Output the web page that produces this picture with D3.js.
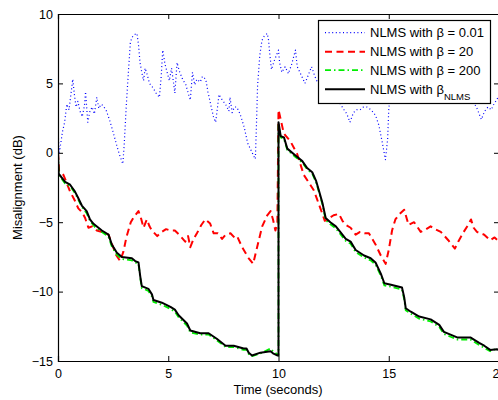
<!DOCTYPE html>
<html>
<head>
<meta charset="utf-8">
<script src="https://cdn.jsdelivr.net/npm/d3@7"></script>
<style>
  body { margin: 0; background: #fff; }
  svg { display: block; font-family: "Liberation Sans", Arial, sans-serif; }
</style>
</head>
<body>
<svg id="chart" width="498" height="400"></svg>
<script>
// [time (s), misalignment (dB)]
const beta001 = [
  [0, 1.8], [0.05, 0], [0.1, 0.4], [0.2, 1.5], [0.3, 2.2], [0.4, 3.5], [0.5, 3.1], [0.6, 4.4],
  [0.67, 5.3], [0.75, 4.1], [0.82, 3.3], [0.9, 3.7], [1.0, 3.0], [1.1, 2.6], [1.2, 3.4], [1.25, 4.4],
  [1.3, 3.3], [1.35, 2.2], [1.45, 3.0], [1.55, 3.3], [1.65, 2.8], [1.76, 4.0], [1.85, 3.2], [1.95, 3.5],
  [2.05, 3.4], [2.2, 3.0], [2.35, 2.3], [2.5, 1.5], [2.65, 0.6], [2.8, -0.2], [2.94, -0.8], [3.0, 0.5],
  [3.1, 3.5], [3.2, 6.0], [3.28, 7.9], [3.35, 8.3], [3.45, 8.5], [3.58, 8.6], [3.65, 7.8], [3.72, 6.5],
  [3.8, 5.8], [3.88, 5.2], [3.95, 6.1], [4.05, 5.6], [4.15, 5.0], [4.3, 4.7], [4.45, 4.3], [4.6, 4.0],
  [4.68, 5.5], [4.75, 7.4], [4.85, 6.4], [4.95, 5.8], [5.05, 5.2], [5.15, 6.1], [5.3, 4.3], [5.4, 6.5],
  [5.5, 5.9], [5.65, 5.3], [5.8, 4.9], [5.92, 4.2], [6.0, 3.8], [6.1, 5.8], [6.2, 4.9], [6.3, 5.3],
  [6.45, 5.1], [6.55, 5.5], [6.7, 5.3], [6.8, 4.4], [6.95, 3.3], [7.05, 2.6], [7.15, 2.2], [7.25, 3.5],
  [7.3, 4.2], [7.45, 3.8], [7.6, 3.5], [7.75, 3.0], [7.8, 4.0], [7.9, 2.9], [8.0, 3.3], [8.1, 3.3],
  [8.2, 3.0], [8.3, 2.6], [8.45, 1.8], [8.6, 0.7], [8.75, 0.2], [8.9, -0.3], [8.95, -0.45], [9.0, 2.0],
  [9.05, 4.8], [9.15, 7.0], [9.25, 8.1], [9.35, 8.4], [9.49, 8.6], [9.55, 8.1], [9.6, 7.2], [9.68, 6.0],
  [9.8, 6.6], [9.9, 7.0], [10.0, 7.4], [10.05, 6.5], [10.15, 5.8], [10.3, 6.2], [10.45, 5.7], [10.6, 6.4],
  [10.77, 7.4], [10.85, 6.2], [11.0, 5.7], [11.2, 5.0], [11.35, 5.6], [11.5, 6.2], [11.65, 5.5], [11.76, 5.1],
  [11.9, 5.4], [12.1, 4.8], [12.3, 4.6], [12.5, 4.2], [12.7, 3.8], [12.85, 3.4], [12.97, 3.1], [13.1, 2.8],
  [13.24, 2.2], [13.4, 2.9], [13.55, 3.1], [13.7, 3.1], [13.85, 3.3], [14.0, 3.3], [14.2, 3.1], [14.4, 2.7],
  [14.55, 2.0], [14.7, 0.8], [14.85, -0.5], [14.95, 1.0], [15.0, 3.1], [15.1, 4.5], [15.3, 5.0], [15.5, 4.8],
  [16.0, 5.2], [16.5, 4.6], [17.0, 5.0], [17.5, 4.4], [18.0, 4.8], [18.5, 4.2], [18.8, 3.8], [19.0, 3.2],
  [19.1, 2.8], [19.2, 2.4], [19.35, 3.0], [19.5, 3.3], [19.65, 3.1], [19.8, 3.6], [19.9, 3.8], [20.0, 4.2]
];

const beta20 = [
  [0, 0], [0.05, -1.3], [0.25, -1.6], [0.55, -2.8], [0.75, -3.4], [0.92, -4.0], [1.1, -4.3], [1.23, -4.7],
  [1.38, -5.4], [1.55, -5.3], [1.76, -5.6], [2.0, -5.7], [2.29, -5.9], [2.5, -6.8], [2.65, -7.4], [2.82, -7.8],
  [2.97, -7.1], [3.1, -6.1], [3.3, -5.0], [3.45, -4.6], [3.65, -4.2], [3.78, -4.8], [3.88, -5.4], [4.03, -4.8],
  [4.15, -5.3], [4.26, -5.6], [4.5, -6.0], [4.7, -5.7], [4.9, -5.5], [5.1, -5.6], [5.3, -5.6], [5.5, -5.9],
  [5.77, -6.4], [5.9, -6.0], [6.0, -6.8], [6.15, -6.2], [6.3, -5.8], [6.5, -5.2], [6.68, -4.8], [6.9, -5.1],
  [7.06, -5.8], [7.25, -5.8], [7.44, -6.2], [7.6, -5.9], [7.82, -5.8], [8.0, -6.1], [8.12, -6.0], [8.35, -6.8],
  [8.5, -7.2], [8.65, -7.6], [8.85, -8.0], [9.03, -6.8], [9.26, -5.3], [9.49, -4.5], [9.64, -4.2], [9.75, -4.8],
  [9.86, -5.6], [9.95, -5.0], [10.0, 3.1], [10.1, 2.4], [10.24, 1.4], [10.55, 0.8], [10.85, -0.1], [11.15, -1.6],
  [11.4, -2.2], [11.6, -2.7], [11.9, -4.0], [12.1, -4.9], [12.3, -4.7], [12.5, -4.5], [12.74, -4.4], [12.9, -4.9],
  [13.05, -5.2], [13.27, -5.4], [13.5, -5.9], [13.7, -5.7], [13.9, -5.8], [14.1, -5.8], [14.25, -6.2], [14.4, -6.6],
  [14.64, -7.4], [14.86, -8.0], [15.0, -7.0], [15.15, -5.6], [15.3, -4.8], [15.5, -4.4], [15.7, -4.1], [15.9, -5.2],
  [16.15, -5.0], [16.45, -5.7], [16.7, -5.5], [16.9, -5.3], [17.1, -5.5], [17.36, -5.7], [17.7, -6.3], [18.0, -6.9],
  [18.15, -6.4], [18.4, -5.7], [18.6, -5.2], [18.73, -4.8], [18.85, -5.4], [19.0, -5.7], [19.33, -5.9], [19.6, -6.3],
  [19.8, -6.1], [20.0, -6.4]
];

const beta200 = [
  [0, 0], [0.03, -1.6], [0.32, -2.2], [0.55, -2.4], [0.77, -2.9], [0.9, -3.3], [1.08, -3.9], [1.3, -4.35],
  [1.45, -4.9], [1.6, -5.2], [1.68, -5.35], [1.99, -5.7], [2.29, -6.05], [2.44, -6.75], [2.67, -7.35], [2.9, -7.65],
  [3.35, -7.75], [3.5, -7.9], [3.65, -8.0], [3.73, -9.0], [3.8, -9.75], [4.1, -9.95], [4.26, -10.35], [4.33, -10.75],
  [4.71, -10.95], [5.1, -11.25], [5.3, -11.45], [5.47, -11.85], [5.85, -12.45], [6.0, -12.95], [6.45, -13.1], [6.83, -13.1],
  [7.2, -13.5], [7.6, -14.0], [7.97, -14.0], [8.42, -14.2], [8.55, -14.2], [8.65, -14.5], [8.8, -14.65], [9.18, -14.45],
  [9.64, -14.1], [9.75, -14.3], [9.94, -14.5], [10.0, -14.6], [10.0, 2.0], [10.1, 1.1], [10.25, 1.0], [10.4, 0.2],
  [10.77, -0.3], [11.08, -0.7], [11.3, -1.2], [11.53, -1.5], [11.7, -2.1], [11.83, -2.8], [11.99, -3.7], [12.14, -4.85],
  [12.35, -5.15], [12.6, -5.45], [12.8, -5.85], [13.05, -6.35], [13.27, -6.55], [13.5, -7.15], [13.88, -7.55], [14.18, -7.75],
  [14.4, -8.05], [14.64, -8.85], [14.8, -9.55], [15.1, -9.65], [15.6, -9.85], [15.7, -10.55], [15.77, -11.35], [16.0, -11.6],
  [16.38, -11.95], [16.9, -12.15], [17.29, -12.55], [17.5, -13.05], [17.8, -13.25], [18.1, -13.45], [18.7, -13.45], [19.1, -13.85],
  [19.33, -14.05], [19.6, -14.3], [19.9, -14.1], [20.0, -14.2]
];

const betaNLMS = [
  [0, 0.2], [0.03, -1.5], [0.32, -2.1], [0.55, -2.3], [0.77, -2.8], [0.9, -3.2], [1.08, -3.8], [1.3, -4.2],
  [1.45, -4.8], [1.6, -5.1], [1.68, -5.2], [1.99, -5.6], [2.29, -5.9], [2.44, -6.6], [2.67, -7.2], [2.9, -7.5],
  [3.35, -7.6], [3.5, -7.8], [3.65, -7.9], [3.73, -8.9], [3.8, -9.6], [4.1, -9.8], [4.26, -10.2], [4.33, -10.6],
  [4.71, -10.8], [5.1, -11.1], [5.3, -11.3], [5.47, -11.7], [5.85, -12.3], [6.0, -12.8], [6.45, -13.0], [6.83, -13.0],
  [7.2, -13.4], [7.6, -13.9], [7.97, -13.9], [8.42, -14.1], [8.55, -14.1], [8.65, -14.4], [8.8, -14.6], [9.18, -14.4],
  [9.64, -14.3], [9.75, -14.45], [9.94, -14.6], [10.0, -14.6], [10.0, 2.2], [10.1, 1.2], [10.25, 1.1], [10.4, 0.3],
  [10.77, -0.2], [11.08, -0.6], [11.3, -1.1], [11.53, -1.4], [11.7, -2.0], [11.83, -2.7], [11.99, -3.6], [12.14, -4.7],
  [12.35, -5.0], [12.6, -5.3], [12.8, -5.7], [13.05, -6.2], [13.27, -6.4], [13.5, -7.0], [13.88, -7.4], [14.18, -7.6],
  [14.4, -7.9], [14.64, -8.7], [14.8, -9.4], [15.1, -9.5], [15.6, -9.7], [15.7, -10.4], [15.77, -11.2], [16.0, -11.45],
  [16.38, -11.8], [16.9, -12.0], [17.29, -12.4], [17.5, -12.9], [17.8, -13.1], [18.1, -13.3], [18.7, -13.3], [19.1, -13.7],
  [19.33, -13.9], [19.6, -14.2], [19.9, -14.15], [20.0, -14.2]
];

const xTicks = [0, 5, 10, 15, 20];
const yTicks = [-15, -10, -5, 0, 5, 10];
const legendLabels = ["NLMS with β = 0.01", "NLMS with β = 20", "NLMS with β = 200", "NLMS with β"];

const svg = d3.select("#chart");
const plotLeft = 58, plotTop = 14, plotRight = 499, plotBottom = 361;

const x = d3.scaleLinear().domain([0, 20]).range([plotLeft, plotRight]);
const y = d3.scaleLinear().domain([-15, 10]).range([plotBottom, plotTop]);

svg.append("defs").append("clipPath").attr("id", "plotclip")
  .append("rect").attr("x", plotLeft).attr("y", plotTop)
  .attr("width", plotRight - plotLeft).attr("height", plotBottom - plotTop);

const line = d3.line().x(d => x(d[0])).y(d => y(d[1]));

const series = [
  { data: beta001, color: "#0000ff", width: 1.2, dash: "1,2.6" },
  { data: beta20, color: "#ff0000", width: 2, dash: "7,4.5" },
  { data: beta200, color: "#00ee00", width: 1.8, dash: "6,3,1.5,3" },
  { data: betaNLMS, color: "#000000", width: 2, dash: null }
];

const plot = svg.append("g").attr("clip-path", "url(#plotclip)");
series.forEach(s => {
  plot.append("path")
    .attr("d", line(s.data))
    .attr("fill", "none")
    .attr("stroke", s.color)
    .attr("stroke-width", s.width)
    .attr("stroke-dasharray", s.dash)
    .attr("stroke-linejoin", "round");
});

// axes with inward ticks (box style)
const fmt = d3.format("");
svg.append("g").attr("transform", `translate(0,${plotBottom})`)
  .call(d3.axisBottom(x).tickValues(xTicks).tickSize(-5).tickPadding(8).tickFormat(fmt));
svg.append("g").attr("transform", `translate(0,${plotTop})`)
  .call(d3.axisTop(x).tickValues(xTicks).tickSize(-5).tickFormat(""));
svg.append("g").attr("transform", `translate(${plotLeft},0)`)
  .call(d3.axisLeft(y).tickValues(yTicks).tickSize(-5).tickPadding(5).tickFormat(fmt));
svg.append("g").attr("transform", `translate(${plotRight},0)`)
  .call(d3.axisRight(y).tickValues(yTicks).tickSize(-5).tickFormat(""));

svg.selectAll(".domain").attr("stroke", "#000").attr("stroke-width", 1.2);
svg.selectAll(".tick line").attr("stroke", "#000");
svg.selectAll(".tick text")
  .attr("font-family", "Liberation Sans, Arial, sans-serif")
  .attr("font-size", 12.5)
  .attr("fill", "#000");

svg.append("text")
  .attr("x", 278)
  .attr("y", 394)
  .attr("text-anchor", "middle")
  .attr("font-size", 13)
  .text("Time (seconds)");

svg.append("text")
  .attr("transform", `translate(22,${(plotTop + plotBottom) / 2}) rotate(-90)`)
  .attr("text-anchor", "middle")
  .attr("font-size", 13)
  .text("Misalignment (dB)");

// legend
const lg = svg.append("g");
lg.append("rect")
  .attr("x", 318.5).attr("y", 20.5).attr("width", 172).attr("height", 83)
  .attr("fill", "#fff").attr("stroke", "#000").attr("stroke-width", 1.2);

const rowY = [32.7, 51.7, 70.2, 89.3];
series.forEach((s, i) => {
  lg.append("line")
    .attr("x1", 325).attr("x2", 365)
    .attr("y1", rowY[i]).attr("y2", rowY[i])
    .attr("stroke", s.color)
    .attr("stroke-width", s.width)
    .attr("stroke-dasharray", s.dash);
  const t = lg.append("text")
    .attr("x", 370).attr("y", rowY[i] + 4.6)
    .attr("font-size", 13)
    .text(legendLabels[i]);
  if (i === 3) {
    t.append("tspan").attr("dy", 6.5).attr("font-size", 9.5).text("NLMS");
  }
});
</script>
</body>
</html>
